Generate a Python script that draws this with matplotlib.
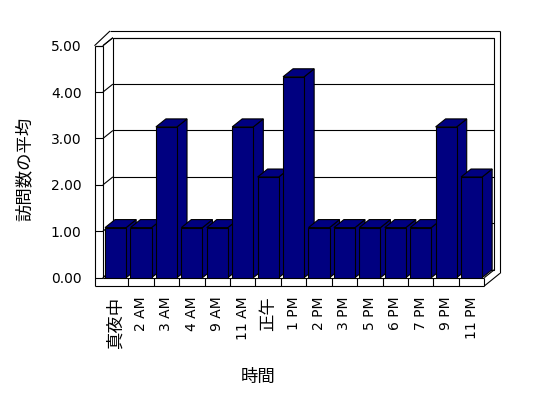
import matplotlib
matplotlib.use('Agg')
import numpy as np
import matplotlib.pyplot as plt
from matplotlib.patches import Polygon

plt.rcParams['font.family'] = ['DejaVu Sans', 'Noto Sans CJK JP']

hours = ['真夜中', '2 AM', '3 AM', '4 AM', '9 AM', '11 AM', '正午', '1 PM',
         '2 PM', '3 PM', '5 PM', '6 PM', '7 PM', '9 PM', '11 PM']
visits = [1.08, 1.08, 3.25, 1.08, 1.08, 3.25, 2.17, 4.33,
          1.08, 1.08, 1.08, 1.08, 1.08, 3.25, 2.17]
yticks = [0, 1, 2, 3, 4, 5]

NAVY = '#000080'
W, H = 548, 398
ax_px = (102.9, 277.7, 381.4, 232.0)  # left, bottom(from top), width, height

fig = plt.figure(figsize=(W / 100, H / 100), dpi=100)
ax = fig.add_axes([ax_px[0] / W, 1 - ax_px[1] / H, ax_px[2] / W, ax_px[3] / H])
x0, x1 = -0.5, len(hours) - 0.5
ax.set_xlim(x0, x1)
ax.set_ylim(0, 5)
ax.patch.set_visible(False)
for s in ax.spines.values():
    s.set_visible(False)

# pixel -> data unit helpers
px_x = (x1 - x0) / ax_px[2]
px_y = 5 / ax_px[3]
dx, dy = 10 * px_x, 8 * px_y
wall = 8.4 * px_x
floor = 8.3 * px_y


def line(xs, ys, z=1):
    ax.plot(xs, ys, color='k', lw=0.8, clip_on=False, zorder=z,
            solid_capstyle='butt')


# back wall
ax.add_patch(Polygon([(x0 + dx, dy), (x1 + dx, dy), (x1 + dx, 5 + dy), (x0 + dx, 5 + dy)],
                     closed=True, fc='white', ec='k', lw=0.8, clip_on=False, zorder=0.5))
# wall rims
A = (x0 - wall, 5)
B = (x0, 5)
C = (x0 + dx, 5 + dy)
D = (x0 + 7.1 * px_x, 5 + 14.7 * px_y)
E = (x1 + dx + 5.7 * px_x, 5 + dy + 6.7 * px_y)
F = (x1 + dx, 5 + dy)
J = (x1 + dx + 5.7 * px_x, 4.4 * px_y)
for p, q in [(A, B), (A, D), (B, C), (D, E), (C, F)]:
    line([p[0], q[0]], [p[1], q[1]])
line([E[0], J[0]], [E[1], J[1]])

# left wall front face
line([x0 - wall, x0 - wall], [-floor, 5])
line([x0, x0], [0, 5])
line([x0, x0 + dx], [0, dy])

# floor slab
line([x0 - wall, x1], [-floor, -floor])
line([x0, x1], [0, 0])
line([x1, x1], [-floor, 0])
line([x1, x1 + dx], [0, dy])
line([x1, J[0]], [-floor, J[1]])
for k in range(1, len(hours)):
    line([k - 0.5, k - 0.5], [0, -floor])

# gridlines / ticks
for v in yticks:
    line([x0 - wall, x0], [v, v])
    line([x0, x0 + dx], [v, v + dy])
    if 0 < v < 5:
        line([x0 + dx, x1 + dx], [v + dy, v + dy])

# bars
x = np.arange(len(hours))
bw = 0.83
bars = ax.bar(x, visits, width=bw, color=NAVY, edgecolor='k', linewidth=0.8, zorder=3)
for i, (p, v) in enumerate(zip(bars, visits)):
    p.set_zorder(3 + i + 0.5)
    xl, xr = x[i] - bw / 2, x[i] + bw / 2
    top = Polygon([(xl, v), (xr, v), (xr + dx, v + dy), (xl + dx, v + dy)],
                  closed=True, fc=NAVY, ec='k', lw=0.8, clip_on=False, zorder=3 + i)
    side = Polygon([(xr, 0), (xr + dx, dy), (xr + dx, v + dy), (xr, v)],
                   closed=True, fc=NAVY, ec='k', lw=0.8, clip_on=False, zorder=3 + i)
    ax.add_patch(side)
    ax.add_patch(top)

ax.set_yticks(yticks, [f'{v:.2f}' for v in yticks])
ax.tick_params(axis='y', length=0, pad=15.3, labelsize=10)
ax.set_xticks(x, hours, rotation=90)
ax.tick_params(axis='x', length=0, pad=13.7, labelsize=10)
for t in ax.get_xticklabels():
    if not t.get_text().isascii():
        t.set_fontsize(12.5)

fig.text(25 / W, 1 - 169 / H, '訪問数の平均', rotation=90, ha='center', va='center', fontsize=12.5)
fig.text(258 / W, 1 - 376.7 / H, '時間', ha='center', va='center', fontsize=12.5)

fig.savefig('out.png', dpi=100, facecolor='white')
